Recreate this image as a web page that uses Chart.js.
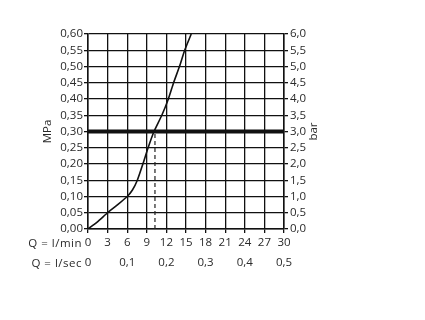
<!DOCTYPE html>
<html>
<head>
<meta charset="utf-8">
<script src="https://cdn.jsdelivr.net/npm/chart.js@4"></script>
<style>
  html, body { margin: 0; padding: 0; background: #fff; }
  #wrap { width: 425px; height: 320px; }
</style>
</head>
<body>
<div id="wrap"><canvas id="chart" width="425" height="320"></canvas></div>
<script>
// flow curve
const flowLmin = [0, 1.5, 3, 4.5, 6, 6.8, 7.55, 8.4, 9.2, 10.1, 11.3, 12.3, 13.1, 14.0, 14.8, 15.8];
const pressureMPa = [0, 0.023, 0.05, 0.074, 0.10, 0.12, 0.15, 0.20, 0.25, 0.30, 0.35, 0.40, 0.45, 0.50, 0.55, 0.60];

// reference line at 0.3 MPa and the drop to the flow axis
const refPressure = 0.30;
const refFlow = 10.25;

const lminTicks = [0, 3, 6, 9, 12, 15, 18, 21, 24, 27, 30];
const lsecTicks = [0, 0.1, 0.2, 0.3, 0.4, 0.5];
const mpaTicks = [0, 0.05, 0.10, 0.15, 0.20, 0.25, 0.30, 0.35, 0.40, 0.45, 0.50, 0.55, 0.60];
const barTicks = [0, 0.5, 1, 1.5, 2, 2.5, 3, 3.5, 4, 4.5, 5, 5.5, 6];

const TEXT = '#2a2a2a';
const FONT = { family: 'Open Sans', size: 11.5 };

const comma = (v, d) => v.toFixed(d).replace('.', ',');

const sideLabels = {
  id: 'sideLabels',
  afterDraw(chart) {
    const { ctx, chartArea } = chart;
    const midY = (chartArea.top + chartArea.bottom) / 2;
    ctx.save();
    ctx.fillStyle = TEXT;
    ctx.font = `${FONT.size}px ${FONT.family}`;
    ctx.textBaseline = 'middle';

    // row captions for the two flow axes
    ctx.textAlign = 'right';
    ctx.letterSpacing = '0.5px';
    ctx.fillText('Q = l/min', 82, 244);
    ctx.fillText('Q = l/sec', 82, 264);
    ctx.letterSpacing = '0px';

    // rotated unit titles
    ctx.textAlign = 'center';
    ctx.translate(48, midY);
    ctx.rotate(-Math.PI / 2);
    ctx.fillText('MPa', 0, 0);
    ctx.restore();

    ctx.save();
    ctx.fillStyle = TEXT;
    ctx.font = `${FONT.size}px ${FONT.family}`;
    ctx.textBaseline = 'middle';
    ctx.textAlign = 'center';
    ctx.translate(314, midY);
    ctx.rotate(-Math.PI / 2);
    ctx.fillText('bar', 0, 0);
    ctx.restore();
  }
};

const fixedTicks = (list) => (s) => { s.ticks = list.map(v => ({ value: v })); };
const noRotate = { autoSkip: false, maxRotation: 0, minRotation: 0 };

const ctx = document.getElementById('chart').getContext('2d');
new Chart(ctx, {
  type: 'line',
  data: {
    datasets: [
      {
        data: flowLmin.map((q, i) => ({ x: q, y: pressureMPa[i] })),
        borderColor: '#111',
        borderWidth: 1.6,
        pointRadius: 0,
        tension: 0.2
      },
      {
        data: [{ x: 0, y: refPressure }, { x: 30, y: refPressure }],
        borderColor: '#111',
        borderWidth: 4,
        pointRadius: 0
      },
      {
        data: [{ x: refFlow, y: 0 }, { x: refFlow, y: refPressure }],
        borderColor: '#222',
        borderWidth: 1.2,
        borderDash: [4, 3],
        pointRadius: 0
      }
    ]
  },
  options: {
    responsive: false,
    animation: false,
    layout: { padding: { top: 34, bottom: 43, left: 0, right: 0 } },
    plugins: { legend: { display: false }, tooltip: { enabled: false } },
    scales: {
      x: {
        type: 'linear',
        position: 'bottom',
        min: 0,
        max: 30,
        afterBuildTicks: fixedTicks(lminTicks),
        afterFit: (s) => { s.height = 22; },
        ticks: { ...noRotate, color: TEXT, font: FONT, padding: 3, callback: (v) => String(v) },
        grid: { color: '#111', lineWidth: 1.3, tickLength: 4 },
        border: { color: '#111', width: 1.5 }
      },
      x2: {
        type: 'linear',
        position: 'bottom',
        min: 0,
        max: 0.5,
        afterBuildTicks: fixedTicks(lsecTicks),
        afterFit: (s) => { s.height = 26; },
        ticks: { ...noRotate, color: TEXT, font: FONT, padding: 5, callback: (v) => (v === 0 ? '0' : comma(v, 1)) },
        grid: { display: false, drawTicks: false, tickLength: 0 },
        border: { display: false }
      },
      y: {
        position: 'left',
        min: 0,
        max: 0.6,
        afterBuildTicks: fixedTicks(mpaTicks),
        afterFit: (s) => { s.width = 88; },
        ticks: { ...noRotate, color: TEXT, font: FONT, padding: 1, callback: (v) => comma(v, 2) },
        grid: { color: '#111', lineWidth: 1.3, tickLength: 4 },
        border: { color: '#111', width: 1.5 }
      },
      y2: {
        position: 'right',
        min: 0,
        max: 6,
        afterBuildTicks: fixedTicks(barTicks),
        afterFit: (s) => { s.width = 141; },
        ticks: { ...noRotate, color: TEXT, font: FONT, padding: 2, callback: (v) => comma(v, 1) },
        grid: { drawOnChartArea: false, color: '#111', lineWidth: 1.3, tickLength: 4 },
        border: { color: '#111', width: 1.5 }
      }
    }
  },
  plugins: [sideLabels]
});
</script>
</body>
</html>
